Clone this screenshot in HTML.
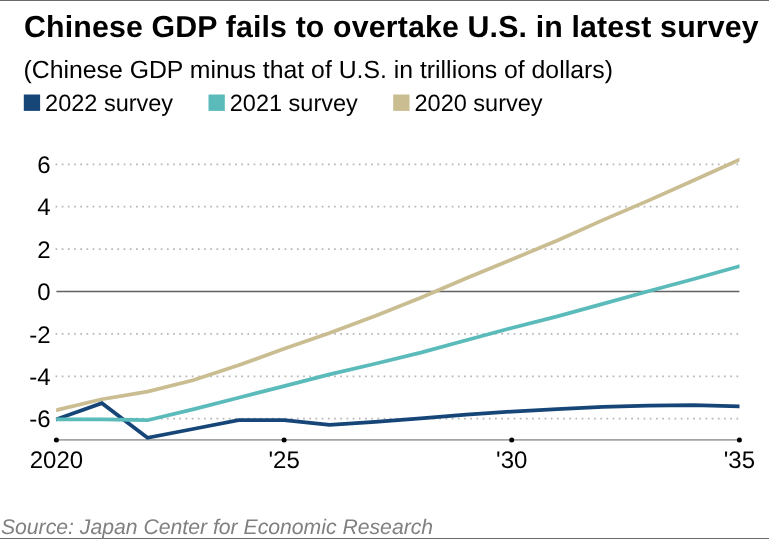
<!DOCTYPE html>
<html lang="en">
<head>
<meta charset="utf-8">
<title>Chinese GDP fails to overtake U.S. in latest survey</title>
<style>
html,body{margin:0;padding:0;background:#fff;}
body{width:769px;height:539px;overflow:hidden;}
svg{display:block;will-change:transform;}
text{font-family:"Liberation Sans",Arial,Helvetica,sans-serif;fill:#000;text-rendering:geometricPrecision;}
.t{font-weight:bold;font-size:30.3px;letter-spacing:0.155px;}
.s{font-size:24.8px;}
.l{font-size:23.5px;}
.a{font-size:24px;}
.src{font-size:21.2px;font-style:italic;fill:#808080;text-rendering:geometricPrecision;}
.grid{stroke:#b6b6b6;stroke-width:1.7;stroke-dasharray:1.7 4.49;fill:none;}
.ln{fill:none;stroke-width:3.7;stroke-linejoin:miter;stroke-linecap:butt;}
</style>
</head>
<body>
<svg width="769" height="539" viewBox="0 0 769 539">
<rect x="0" y="0" width="769" height="539" fill="#fff"/>
<rect x="0" y="0" width="769" height="1" fill="#6a6a6a"/>
<rect x="0" y="538" width="769" height="1" fill="#6a6a6a"/>
<text class="t" x="24.0" y="37.3">Chinese GDP fails to overtake U.S. in latest survey</text>
<text class="s" x="23.5" y="77.7">(Chinese GDP minus that of U.S. in trillions of dollars)</text>
<rect x="23.8" y="94.5" width="16.3" height="16.4" fill="#164677"/>
<text class="l" x="45.1" y="111.2">2022 survey</text>
<rect x="208.5" y="94.5" width="16.3" height="16.4" fill="#5bbbba"/>
<text class="l" x="229.8" y="111.2">2021 survey</text>
<rect x="393.2" y="94.5" width="16.3" height="16.4" fill="#c9bd91"/>
<text class="l" x="414.5" y="111.2">2020 survey</text>
<line class="grid" x1="55.55" x2="739.4" y1="164.3" y2="164.3"/>
<line class="grid" x1="55.55" x2="739.4" y1="206.7" y2="206.7"/>
<line class="grid" x1="55.55" x2="739.4" y1="249.1" y2="249.1"/>
<line class="grid" x1="55.55" x2="739.4" y1="333.9" y2="333.9"/>
<line class="grid" x1="55.55" x2="739.4" y1="376.3" y2="376.3"/>
<line class="grid" x1="55.55" x2="739.4" y1="418.7" y2="418.7"/>
<line x1="56.4" x2="739.4" y1="291.5" y2="291.5" stroke="#626262" stroke-width="1.35"/>
<text class="a" text-anchor="end" x="50.6" y="172.9">6</text>
<text class="a" text-anchor="end" x="50.6" y="215.3">4</text>
<text class="a" text-anchor="end" x="50.6" y="257.7">2</text>
<text class="a" text-anchor="end" x="50.6" y="300.1">0</text>
<text class="a" text-anchor="end" x="50.6" y="342.5">-2</text>
<text class="a" text-anchor="end" x="50.6" y="384.9">-4</text>
<text class="a" text-anchor="end" x="50.6" y="427.3">-6</text>
<line x1="56.4" x2="739.4" y1="439.9" y2="439.9" stroke="#a4a4a4" stroke-width="1.9"/>
<circle cx="56.4" cy="439.9" r="2.5" fill="#000"/>
<text class="a" text-anchor="middle" x="56.4" y="467.8">2020</text>
<circle cx="284.1" cy="439.9" r="2.5" fill="#000"/>
<text class="a" text-anchor="middle" x="284.1" y="467.8">'25</text>
<circle cx="511.7" cy="439.9" r="2.5" fill="#000"/>
<text class="a" text-anchor="middle" x="511.7" y="467.8">'30</text>
<circle cx="739.4" cy="439.9" r="2.5" fill="#000"/>
<text class="a" text-anchor="middle" x="739.4" y="467.8">'35</text>
<clipPath id="plot"><rect x="56.2" y="120" width="683.3" height="330"/></clipPath>
<g clip-path="url(#plot)">
<polyline class="ln" stroke="#c9bd91" points="53.4,410.8 56.4,410.1 101.9,399.2 147.5,391.6 193.0,380.2 238.5,365.3 284.1,348.7 329.6,333.0 375.1,316.0 420.7,297.8 466.2,278.3 511.7,259.5 557.3,240.5 602.8,220.1 648.3,200.6 693.9,180.2 739.4,159.8 742.4,158.5"/>
<polyline class="ln" stroke="#164677" points="53.4,420.4 56.4,419.3 101.9,403.2 147.5,437.7 193.0,429.0 238.5,420.2 284.1,420.2 329.6,424.8 375.1,421.9 420.7,418.4 466.2,414.7 511.7,411.6 557.3,409.1 602.8,406.8 648.3,405.6 693.9,405.2 739.4,406.4 742.4,406.5"/>
<polyline class="ln" stroke="#5bbbba" points="53.4,419.3 56.4,419.3 101.9,419.3 147.5,420.2 193.0,409.4 238.5,397.7 284.1,386.1 329.6,374.4 375.1,363.7 420.7,352.6 466.2,340.2 511.7,328.0 557.3,316.4 602.8,303.9 648.3,291.2 693.9,279.0 739.4,266.2 742.4,265.4"/>
</g>
<text class="src" x="0.9" y="534.0">Source: Japan Center for Economic Research</text>
</svg>
</body>
</html>
